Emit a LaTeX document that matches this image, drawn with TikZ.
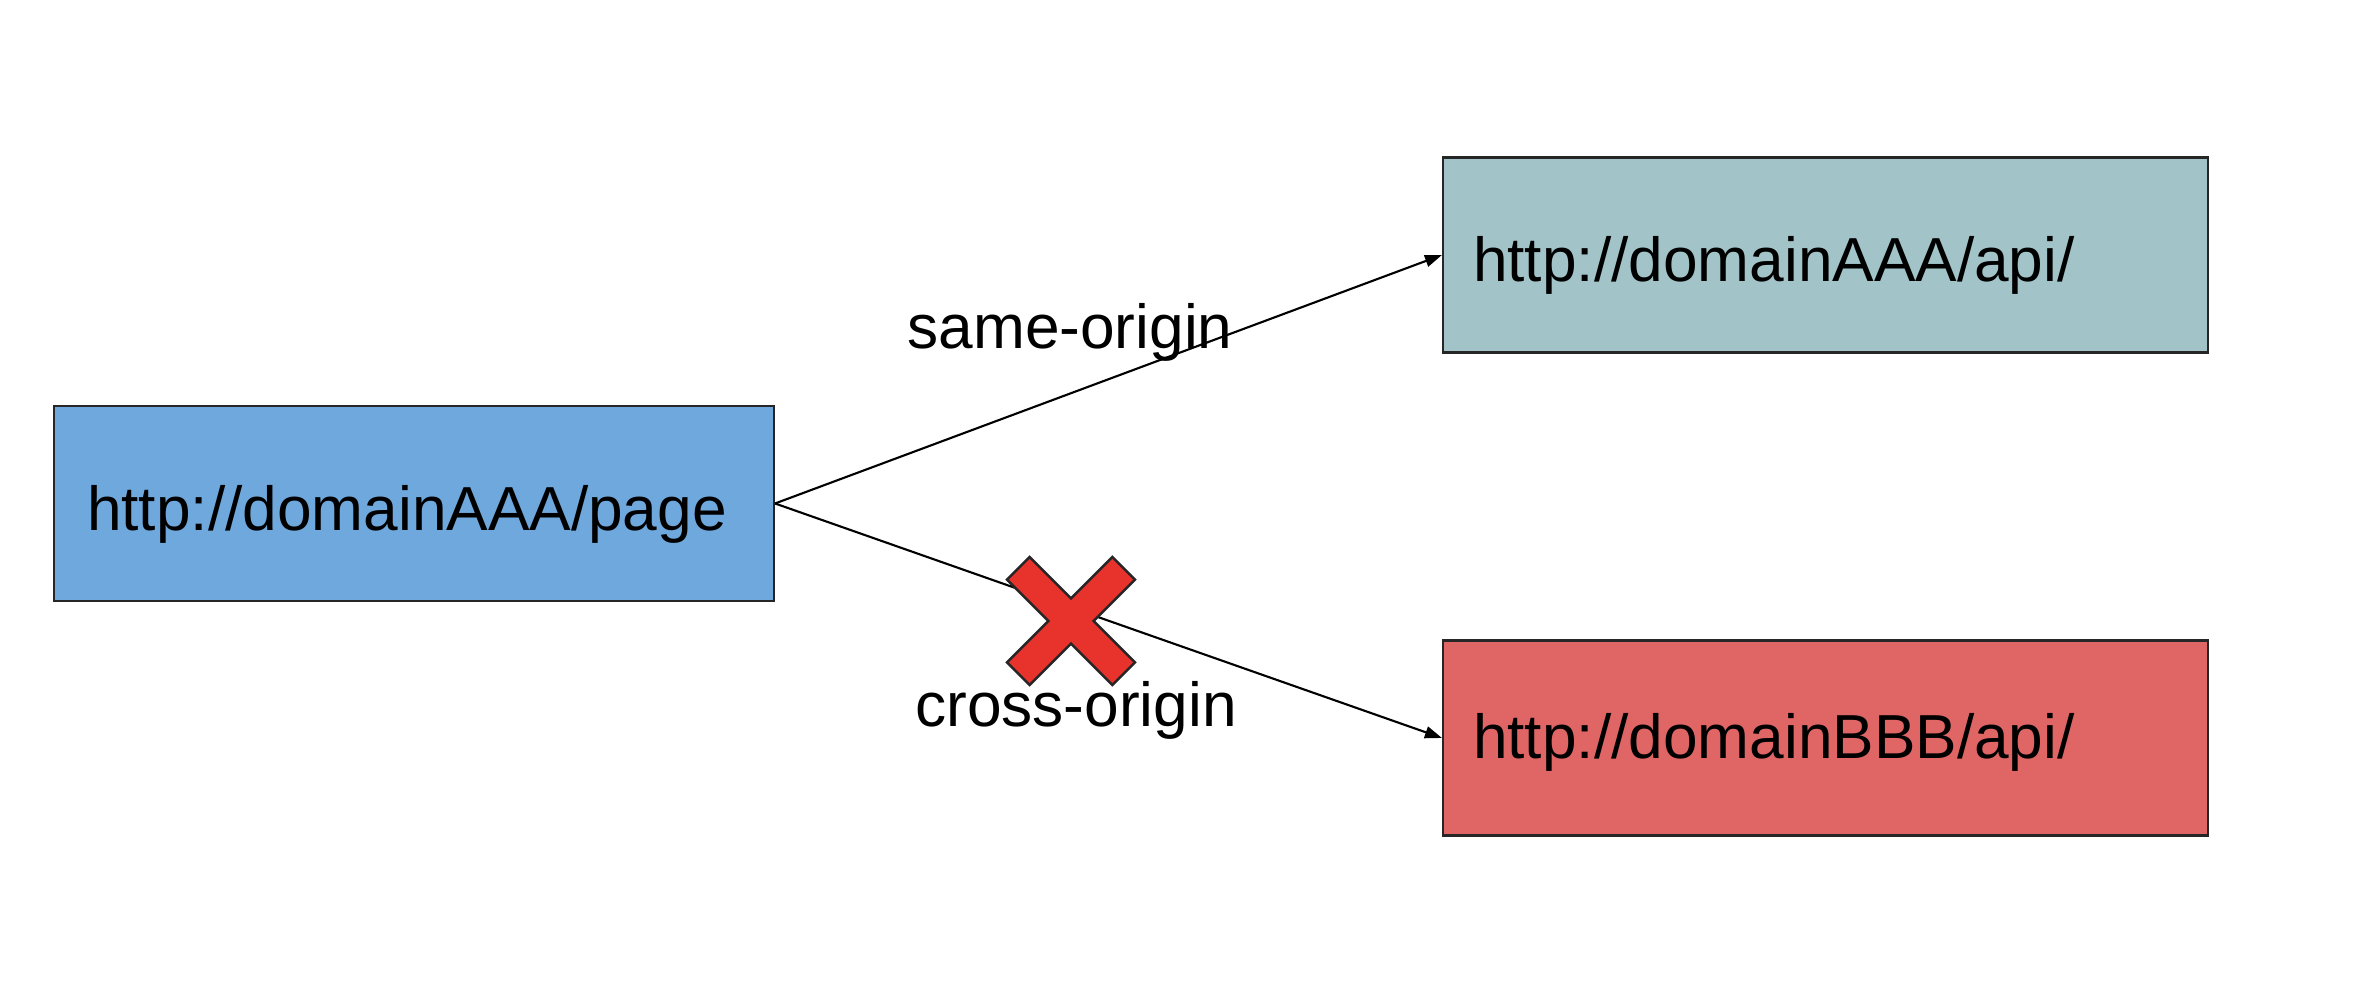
\documentclass[tikz,border=0pt]{standalone}
\usepackage{fontspec}
\setmainfont{Liberation Sans}
\usetikzlibrary{arrows.meta}
\definecolor{bluPagina}{HTML}{6FA8DC}
\definecolor{azzurroApi}{HTML}{A2C4C9}
\definecolor{rossoApi}{HTML}{E06666}
\definecolor{rossoCroce}{HTML}{E8322C}
\begin{document}
\begin{tikzpicture}[
			casella/.style={draw=black!85, line width=0.6pt, rectangle,
				inner xsep=0.3cm, align=left, minimum height=1.95cm,
				text height=17.2pt, text depth=2.1pt,
				font=\fontsize{17.7}{21}\selectfont},
			freccia/.style={line width=0.6pt, black,
				-{Triangle[length=0.17cm, width=0.12cm]}},
			etichetta/.style={font=\fontsize{17.7}{21}\selectfont, inner sep=0pt},
			]
			\useasboundingbox (0,0) rectangle (23.66,9.94);
			
			% caselle
			\node[casella, fill=bluPagina, inner xsep=0.33cm, text width=6.54cm]
			(pag) at (4.14,4.905) {http://domainAAA/page};
			\node[casella, fill=azzurroApi, text width=7.05cm] (apiA) at (18.255,7.39)
			{http://domainAAA/api/};
			\node[casella, fill=rossoApi, text width=7.05cm, text height=13.7pt]
			(apiB) at (18.255,2.56) {http://domainBBB/api/};
			
			% richieste
			\draw[freccia] (pag.east) -- (apiA.west);
			\draw[freccia] (pag.east) -- (apiB.west);
			
			\node[etichetta] (lstesso) at (10.70,6.62) {same-origin};
			\node[etichetta] (laltro) at (10.76,2.84) {cross-origin};
			
			% croce (richiesta bloccata)
			\begin{scope}[shift={(10.71,3.73)}, rotate=45]
				\filldraw[fill=rossoCroce, draw=black!85, line width=0.7pt]
				(0.16,0.16) -- (0.745,0.16) -- (0.745,-0.16) -- (0.16,-0.16)
				-- (0.16,-0.745) -- (-0.16,-0.745) -- (-0.16,-0.16)
				-- (-0.745,-0.16) -- (-0.745,0.16) -- (-0.16,0.16)
				-- (-0.16,0.745) -- (0.16,0.745) -- cycle;
			\end{scope}
			
		\end{tikzpicture}
\end{document}
